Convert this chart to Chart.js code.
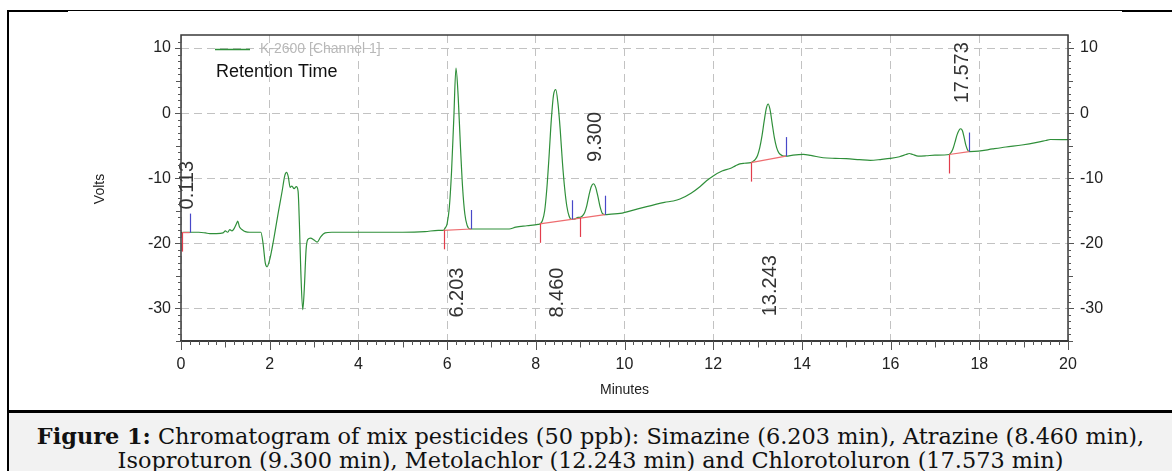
<!DOCTYPE html>
<html>
<head>
<meta charset="utf-8">
<script src="https://cdn.jsdelivr.net/npm/chart.js@4.4.1/dist/chart.umd.min.js"></script>
<style>
    html, body { margin: 0; padding: 0; background: #fff; }
    body { width: 1172px; height: 471px; position: relative; overflow: hidden; }
    #chart { position: absolute; left: 0; top: 0; }
    .rule { position: absolute; background: #000; }
    #caption {
        position: absolute; left: 9px; top: 413px; width: 1163px; height: 58px;
        background: #f2f2f2; text-align: center; color: #111;
        font-family: "DejaVu Serif", serif; font-size: 19px; line-height: 24px;
        padding-top: 11px; box-sizing: border-box; white-space: nowrap; overflow: hidden;
    }
    #caption span { display: inline-block; }
</style>
</head>
<body>
<canvas id="chart" width="1172" height="411"></canvas>
<div class="rule" style="left:7px;top:10px;width:1165px;height:1px"></div>
<div class="rule" style="left:7px;top:10px;width:61px;height:2px"></div>
<div class="rule" style="left:1122px;top:10px;width:50px;height:2px"></div>
<div class="rule" style="left:7px;top:10px;width:2px;height:461px"></div>
<div class="rule" style="left:7px;top:410px;width:1165px;height:3px"></div>
<div id="caption">
    <div><span id="line1"><b>Figure 1:</b> Chromatogram of mix pesticides (50 ppb): Simazine (6.203 min), Atrazine (8.460 min),</span></div>
    <div><span>Isoproturon (9.300 min), Metolachlor (12.243 min) and Chlorotoluron (17.573 min)</span></div>
</div>
<script>
// detector trace, minutes / volts
const trace_t = [
    0.00, 0.20, 0.40, 0.55, 0.65, 0.80, 0.95, 1.00, 1.05, 1.10, 1.15, 1.20, 1.25, 1.28, 1.32, 1.38, 1.45, 1.55, 1.70, 1.80,
    1.85, 1.90, 1.94, 2.00, 2.10, 2.20, 2.28, 2.34, 2.38, 2.42, 2.46, 2.50, 2.55, 2.60, 2.64, 2.67, 2.70, 2.745, 2.78, 2.82,
    2.86, 2.92, 3.00, 3.07, 3.15, 3.25, 3.40, 4.00, 5.00, 5.50, 5.80, 5.92,
    5.95, 6.00, 6.05, 6.10, 6.15, 6.20, 6.25, 6.30, 6.35, 6.40, 6.45, 6.52, 6.60, 7.00, 7.40, 7.55, 7.80, 8.05,
    8.10, 8.15, 8.20, 8.25, 8.30, 8.35, 8.40, 8.45, 8.50, 8.55, 8.60, 8.65, 8.70, 8.75, 8.80, 8.85, 8.90, 8.95,
    9.00, 9.05, 9.10, 9.15, 9.20, 9.25, 9.30, 9.35, 9.40, 9.45, 9.50, 9.56, 9.70, 9.90,
    10.30, 10.60, 10.90, 11.10, 11.25, 11.50, 11.70, 11.85, 12.00, 12.20, 12.38, 12.50, 12.60, 12.70, 12.85,
    12.90, 12.95, 13.00, 13.05, 13.10, 13.15, 13.20, 13.24, 13.28, 13.33, 13.38, 13.43, 13.48, 13.55, 13.64,
    13.80, 14.03, 14.20, 14.48, 14.75, 15.00, 15.30, 15.54, 15.80, 15.99, 16.20, 16.35, 16.42, 16.50, 16.62, 16.80, 17.00, 17.32,
    17.35, 17.40, 17.45, 17.50, 17.55, 17.58, 17.62, 17.66, 17.70, 17.74, 17.78, 17.98, 18.30, 18.60, 18.96, 19.30, 19.50, 19.60, 20.00
];
const trace_v = [
    -18.35, -18.3, -18.3, -18.4, -18.5, -18.5, -18.4, -18.1, -18.3, -17.9, -18.1, -17.7, -17.0, -16.6, -17.5, -17.9, -18.2, -18.3, -18.3, -18.3,
    -20.0, -23.0, -23.6, -22.5, -19.0, -15.0, -12.0, -9.6, -9.1, -9.8, -11.4, -11.2, -11.6, -11.3, -12.0, -17.0, -24.0, -30.2, -27.0, -21.0,
    -19.4, -19.2, -19.5, -19.8, -19.0, -18.4, -18.3, -18.3, -18.3, -18.2, -18.0, -18.0,
    -17.7, -17.0, -14.5, -9.0, -1.0, 6.9, 2.5, -5.0, -11.5, -15.5, -17.2, -17.8, -17.8, -17.8, -17.8, -17.5, -17.3, -17.1,
    -17.0, -16.5, -15.0, -11.5, -6.5, -1.0, 2.8, 3.6, 1.5, -2.5, -7.5, -11.5, -14.3, -15.8, -16.3, -16.3, -16.2, -16.0,
    -16.0, -15.8, -15.3, -14.2, -12.6, -11.3, -10.85, -11.4, -12.8, -14.4, -15.4, -15.6, -15.5, -15.4,
    -14.7, -14.2, -13.7, -13.5, -13.2, -12.3, -11.3, -10.4, -9.65, -8.9, -8.5, -8.1, -7.8, -7.7, -7.6,
    -7.4, -7.1, -6.5, -5.3, -3.5, -1.2, 0.8, 1.4, 0.6, -1.6, -3.8, -5.3, -6.1, -6.5, -6.6,
    -6.45, -6.35, -6.5, -6.85, -6.95, -7.0, -7.15, -7.26, -7.1, -6.96, -6.7, -6.35, -6.2, -6.35, -6.6, -6.55, -6.45, -6.35,
    -6.2, -5.6, -4.5, -3.3, -2.55, -2.4, -2.7, -3.8, -5.0, -5.7, -5.9, -5.84, -5.5, -5.2, -4.9, -4.5, -4.2, -4.05, -4.06
];

const yTicks = [-30, -20, -10, 0, 10];

// integration marks
const peakLabels = ["0.113", "6.203", "8.460", "9.300", "13.243", "17.573"];
const peakTimes = [0.113, 6.203, 8.460, 9.300, 13.243, 17.573];
const labelFrom = [-14.8, -31.4, -31.4, -7.5, -31.2, 1.5];   // volts where the label text starts
const startTimes = [0.02, 5.92, 8.09, 8.99, 12.85, 17.32];
const startVolts = [-18.35, -18.0, -17.0, -16.1, -7.6, -6.35];
const endTimes = [0.196, 6.55, 8.81, 9.56, 13.64, 17.77];
const endVolts = [-18.35, -17.8, -16.3, -15.6, -6.6, -5.9];
const baseStartT = [0.02, 5.92, 8.09, 12.85, 17.32];
const baseStartV = [-18.35, -18.0, -17.0, -7.6, -6.35];
const baseEndT = [0.196, 6.55, 9.56, 13.64, 17.77];
const baseEndV = [-18.35, -17.8, -15.6, -6.6, -5.9];

const SANS = '"Liberation Sans", Arial, sans-serif';
const TRACE = "#2f8f3a";

function line(ctx, x1, y1, x2, y2) {
    ctx.beginPath();
    ctx.moveTo(x1, y1);
    ctx.lineTo(x2, y2);
    ctx.stroke();
}

const decor = {
    id: "decor",
    afterDatasetsDraw(chart) {
        const ctx = chart.ctx;
        const xs = chart.scales.x, ys = chart.scales.y;
        ctx.save();
        ctx.lineWidth = 1.2;
        // baselines
        ctx.strokeStyle = "#ee6d70";
        for (let i = 0; i < baseStartT.length; i++) {
            line(ctx, xs.getPixelForValue(baseStartT[i]), ys.getPixelForValue(baseStartV[i]),
                xs.getPixelForValue(baseEndT[i]), ys.getPixelForValue(baseEndV[i]));
        }
        // peak start / end marks
        ctx.strokeStyle = "#e23d4c";
        for (let i = 0; i < startTimes.length; i++) {
            let x = Math.round(xs.getPixelForValue(startTimes[i])) + 0.5;
            let y = ys.getPixelForValue(startVolts[i]);
            line(ctx, x, y, x, y + 19);
        }
        ctx.strokeStyle = "#4848c8";
        for (let i = 0; i < endTimes.length; i++) {
            let x = Math.round(xs.getPixelForValue(endTimes[i])) + 0.5;
            let y = ys.getPixelForValue(endVolts[i]);
            line(ctx, x, y, x, y - 19);
        }
        // retention time labels
        ctx.fillStyle = "#333";
        ctx.font = "20px " + SANS;
        ctx.textAlign = "left";
        ctx.textBaseline = "alphabetic";
        for (let i = 0; i < peakLabels.length; i++) {
            ctx.save();
            ctx.translate(xs.getPixelForValue(peakTimes[i]), ys.getPixelForValue(labelFrom[i]));
            ctx.rotate(-Math.PI / 2);
            ctx.fillText(peakLabels[i], 0, 7.2);
            ctx.restore();
        }
        ctx.restore();
    },
    afterDraw(chart) {
        const ctx = chart.ctx, a = chart.chartArea;
        const xs = chart.scales.x, ys = chart.scales.y;
        ctx.save();
        ctx.setLineDash([]);
        // frame
        ctx.strokeStyle = "#3a3a3a";
        ctx.lineWidth = 1.5;
        ctx.strokeRect(a.left, a.top, a.right - a.left, a.bottom - a.top);
        ctx.lineWidth = 2;
        line(ctx, a.left - 1, a.bottom, a.right + 1, a.bottom);
        // tick marks
        ctx.strokeStyle = "#555";
        ctx.lineWidth = 1;
        for (let v = -35; v <= 11; v++) {
            let len = v % 10 === 0 ? 6 : (v % 5 === 0 ? 5 : 3);
            let y = Math.round(ys.getPixelForValue(v)) + 0.5;
            line(ctx, a.left, y, a.left - len, y);
            line(ctx, a.right, y, a.right + len, y);
        }
        for (let k = 0; k <= 100; k++) {
            let len = k % 10 === 0 ? 9 : (k % 5 === 0 ? 6.5 : 4);
            let x = Math.round(xs.getPixelForValue(k / 5)) + 0.5;
            line(ctx, x, a.bottom, x, a.bottom + len);
        }
        // legend
        ctx.strokeStyle = TRACE;
        ctx.lineWidth = 1.3;
        line(ctx, a.left + 34, 49.5, a.left + 69, 49.5);
        ctx.textBaseline = "middle";
        ctx.textAlign = "left";
        ctx.fillStyle = "#b8b8b8";
        ctx.font = "14px " + SANS;
        ctx.fillText("K-2600 [Channel 1]", a.left + 79, 49);
        ctx.fillStyle = "#111";
        ctx.font = "18px " + SANS;
        ctx.fillText("Retention Time", a.left + 35, 72);
        // axis titles
        ctx.fillStyle = "#222";
        ctx.font = "14px " + SANS;
        ctx.textAlign = "center";
        ctx.fillText("Minutes", (a.left + a.right) / 2, 390);
        ctx.translate(100, 189);
        ctx.rotate(-Math.PI / 2);
        ctx.fillText("Volts", 0, 0);
        ctx.restore();
    }
};

const tickFont = { family: SANS, size: 16 };
const gridStyle = { color: "#c2c2c2", lineWidth: 1, drawTicks: false };

new Chart(document.getElementById("chart"), {
    type: "line",
    data: {
        datasets: [{
            data: trace_t.map((t, i) => ({ x: t, y: trace_v[i] })),
            borderColor: TRACE,
            borderWidth: 1.2,
            pointRadius: 0,
            cubicInterpolationMode: "monotone",
            fill: false
        }]
    },
    options: {
        responsive: false,
        animation: false,
        events: [],
        layout: { padding: { top: 35, left: 0, right: 0, bottom: 0 } },
        plugins: { legend: { display: false }, tooltip: { enabled: false } },
        scales: {
            x: {
                type: "linear", min: 0, max: 20,
                ticks: { stepSize: 2, padding: 14, color: "#222", font: tickFont, maxRotation: 0 },
                grid: gridStyle,
                border: { display: false, dash: [8, 5] },
                afterFit(s) { s.height = 70; }
            },
            y: {
                position: "left", min: -35, max: 12,
                afterBuildTicks(s) { s.ticks = yTicks.map(v => ({ value: v })); },
                ticks: { padding: 10, color: "#222", font: tickFont },
                grid: gridStyle,
                border: { display: false, dash: [8, 5] },
                afterFit(s) { s.width = 181; }
            },
            y2: {
                position: "right", min: -35, max: 12,
                afterBuildTicks(s) { s.ticks = yTicks.map(v => ({ value: v })); },
                ticks: { padding: 12, color: "#222", font: tickFont },
                grid: { drawOnChartArea: false, drawTicks: false },
                border: { display: false },
                afterFit(s) { s.width = 104; }
            }
        }
    },
    plugins: [decor]
});

// fit the caption's first line to the width it has in the figure
let l1 = document.getElementById("line1");
let cap = document.getElementById("caption");
cap.style.fontSize = (19 * 1108 / l1.offsetWidth).toFixed(2) + "px";
</script>
</body>
</html>
